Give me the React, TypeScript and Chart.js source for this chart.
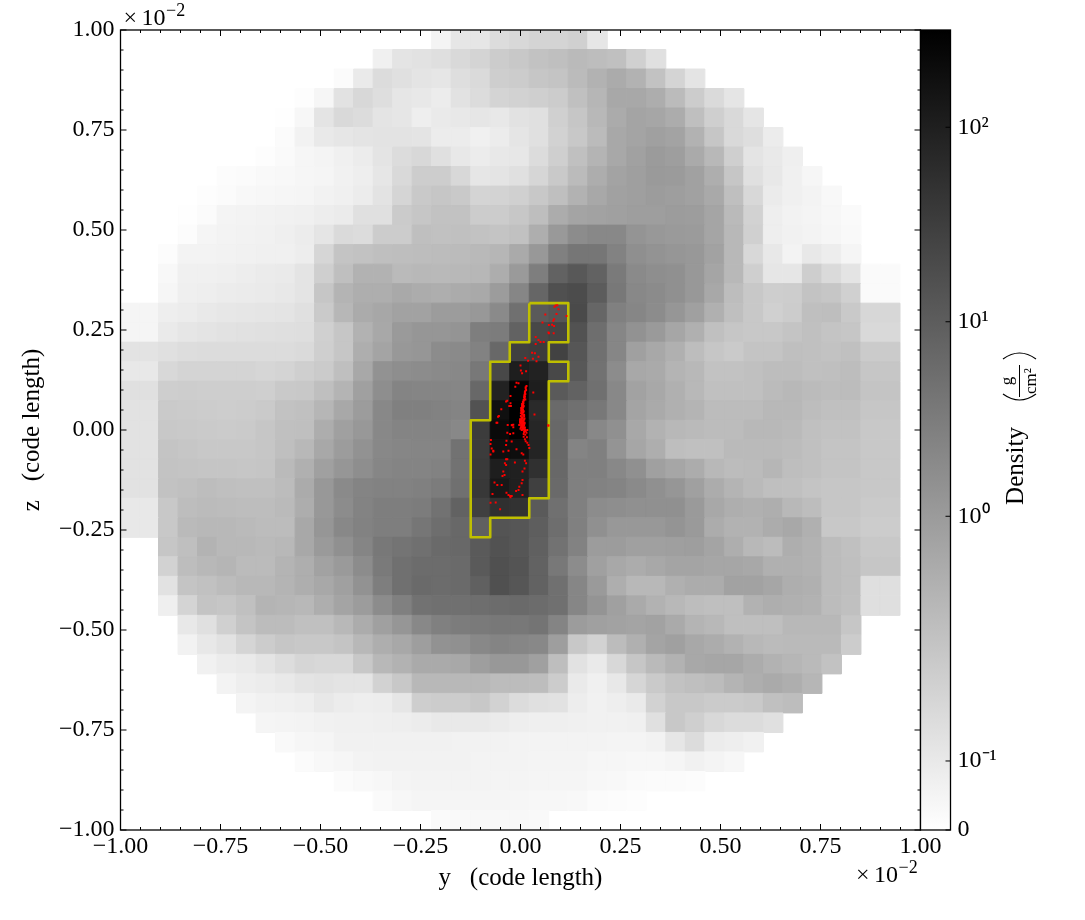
import React, { useEffect, useRef } from "react";
import { Chart, registerables } from "chart.js";

Chart.register(...registerables);

// Grid of projected density, as a gray level on the colour bar (0x00 black, 0xff white).
const GRID_SIZE = 41;
const GRID_X_START = -1.0025;
const GRID_Y_START = 1.0;
const GRID_SPAN = 2;

const rowStart = [16,13,11,9,8,8,7,5,4,3,3,2,2,2,0,0,0,0,0,0,0,0,0,0,0,0,2,2,2,2,3,3,4,5,6,7,8,9,11,13,16];
const r00 = [0xf4,0xe6,0xe6,0xdc,0xd8,0xd4,0xd4,0xd0,0xe6];
const r01 = [0xf0,0xe4,0xe2,0xdf,0xd9,0xd4,0xcc,0xc8,0xc2,0xbf,0xba,0xbd,0xc0,0xd0,0xe0];
const r02 = [0xfb,0xea,0xdc,0xe0,0xe4,0xe6,0xde,0xda,0xce,0xcc,0xc6,0xc4,0xbb,0xb2,0xab,0xb2,0xc2,0xd4,0xe4];
const r03 = [0xfd,0xf6,0xe2,0xd8,0xde,0xe6,0xe8,0xec,0xe2,0xdc,0xd4,0xd2,0xcf,0xcc,0xc0,0xb6,0xa8,0xa8,0xad,0xbb,0xcc,0xda,0xe5];
const r04 = [0xfe,0xf7,0xe4,0xd9,0xdc,0xe4,0xe6,0xee,0xea,0xe8,0xe6,0xe8,0xe2,0xe0,0xd0,0xc6,0xb8,0xab,0xa4,0xa6,0xac,0xbf,0xcf,0xd9,0xe5];
const r05 = [0xfb,0xf2,0xe9,0xe6,0xe4,0xe3,0xe3,0xe4,0xec,0xec,0xf0,0xec,0xe5,0xe0,0xd2,0xc8,0xbb,0xa8,0xa4,0xa0,0xa3,0xb2,0xc6,0xd9,0xde,0xec];
const r06 = [0xfd,0xfa,0xf6,0xf4,0xf0,0xec,0xe4,0xdc,0xd8,0xe0,0xe8,0xec,0xe8,0xe7,0xdc,0xcf,0xc0,0xb4,0xa8,0xa1,0x9b,0x9e,0xaa,0xb8,0xcf,0xe4,0xe9,0xef];
const r07 = [0xfc,0xfb,0xf9,0xf8,0xf6,0xf5,0xf1,0xee,0xe6,0xd9,0xcd,0xcd,0xd8,0xe6,0xe4,0xe0,0xd6,0xc9,0xbb,0xad,0xa3,0x9f,0x9a,0x9b,0xa1,0xae,0xc6,0xe0,0xe8,0xf0,0xf6];
const r08 = [0xfd,0xfb,0xf8,0xf7,0xf6,0xf5,0xf2,0xf0,0xec,0xe3,0xd5,0xc9,0xc6,0xc9,0xd4,0xd3,0xd0,0xc8,0xbf,0xb2,0xa8,0xa1,0x9f,0x9c,0x9e,0xa1,0xa9,0xbf,0xd8,0xeb,0xf0,0xf3,0xf8];
const r09 = [0xfe,0xfb,0xf4,0xf3,0xf2,0xf1,0xf0,0xed,0xeb,0xe0,0xe0,0xcb,0xc6,0xc2,0xc2,0xcc,0xcc,0xc7,0xbe,0xac,0xa4,0xa2,0xa0,0x9e,0x9e,0x9c,0x9d,0xa5,0xba,0xd2,0xee,0xf2,0xf4,0xf7,0xfa];
const r10 = [0xfc,0xf5,0xf3,0xf2,0xf1,0xef,0xec,0xe5,0xda,0xdc,0xcc,0xcc,0xbf,0xc1,0xc0,0xc2,0xc4,0xc1,0xae,0x99,0x8c,0x88,0x88,0x94,0x98,0x9a,0x9b,0xa5,0xb8,0xd0,0xee,0xf1,0xf3,0xf6,0xf9];
const r11 = [0xfc,0xf3,0xf3,0xf2,0xf1,0xf0,0xf0,0xed,0xd6,0xc4,0xc2,0xbf,0xbe,0xbd,0xbc,0xbb,0xb9,0xb6,0xaa,0x98,0x80,0x76,0x76,0x82,0x8f,0x93,0x96,0x98,0xa2,0xb8,0xd8,0xe8,0xf3,0xe8,0xed,0xf5];
const r12 = [0xf8,0xf0,0xf0,0xef,0xed,0xeb,0xea,0xe4,0xcf,0xbf,0xb2,0xb2,0xba,0xb8,0xb9,0xb8,0xb7,0xad,0x9a,0x7e,0x62,0x58,0x62,0x7a,0x8a,0x8e,0x90,0x98,0xa5,0xb8,0xcf,0xe6,0xe6,0xce,0xda,0xe4,0xfa,0xfa];
const r13 = [0xf6,0xef,0xee,0xec,0xeb,0xea,0xe8,0xe4,0xc6,0xb4,0xae,0xae,0xa9,0xac,0xae,0xab,0xa9,0x9c,0x86,0x66,0x50,0x4c,0x5c,0x78,0x88,0x8b,0x90,0x98,0xa8,0xbd,0xc8,0xce,0xcd,0xc3,0xc6,0xd0,0xfa,0xfa];
const r14 = [0xf5,0xf5,0xee,0xec,0xe9,0xe7,0xe6,0xe5,0xe4,0xe0,0xca,0xb7,0xab,0xa7,0xa2,0xa2,0x9c,0x9c,0x98,0x8a,0x70,0x5a,0x55,0x4a,0x66,0x80,0x86,0x8c,0x96,0xa0,0xb0,0xbf,0xc8,0xd0,0xcc,0xbf,0xbe,0xc9,0xd7,0xd7];
const r15 = [0xf5,0xf5,0xea,0xe6,0xe4,0xe2,0xe1,0xe0,0xdf,0xde,0xd0,0xc6,0xb2,0xa8,0x9a,0x96,0x96,0x94,0x7e,0x7c,0x62,0x48,0x44,0x52,0x6e,0x86,0x92,0x9a,0xa6,0xb0,0xc0,0xc6,0xc8,0xc8,0xc4,0xc0,0xc4,0xc6,0xd9,0xd9];
const r16 = [0xe3,0xe3,0xe0,0xdd,0xdc,0xdc,0xdc,0xdc,0xdc,0xda,0xcf,0xc6,0xae,0xa4,0x98,0x96,0x8c,0x8a,0x82,0x68,0x40,0x3c,0x42,0x56,0x70,0x86,0xa0,0xa8,0xb0,0xbd,0xc6,0xca,0xc4,0xc4,0xbf,0xc0,0xc2,0xc0,0xcb,0xcb];
const r17 = [0xe8,0xe8,0xd8,0xd4,0xd4,0xd4,0xd4,0xd6,0xd4,0xcf,0xcb,0xbf,0xa8,0x92,0x8e,0x8c,0x8a,0x88,0x78,0x48,0x1e,0x22,0x48,0x58,0x72,0x8c,0xa8,0xaa,0xb4,0xb8,0xc2,0xc2,0xc0,0xbd,0xbd,0xc0,0xbf,0xbd,0xc6,0xc6];
const r18 = [0xe0,0xe0,0xce,0xcd,0xce,0xce,0xce,0xcf,0xc9,0xc8,0xbf,0xb4,0xa0,0x8e,0x84,0x85,0x85,0x86,0x68,0x22,0x03,0x1e,0x5a,0x62,0x70,0x88,0xa2,0xa8,0xb0,0xb8,0xc0,0xc0,0xc0,0xbb,0xb8,0xbb,0xbd,0xbc,0xc4,0xc4];
const r19 = [0xe2,0xe2,0xca,0xcb,0xcc,0xcd,0xcc,0xca,0xc2,0xc0,0xb6,0xa8,0x9c,0x88,0x80,0x80,0x82,0x84,0x52,0x10,0x00,0x2a,0x6a,0x70,0x78,0x88,0xa4,0xaa,0xb0,0xb4,0xbc,0xbc,0xbc,0xb8,0xb8,0xbd,0xc0,0xc0,0xc6,0xc6];
const r20 = [0xe2,0xe2,0xc8,0xc9,0xca,0xcb,0xca,0xc6,0xc0,0xbf,0xad,0xa0,0x98,0x88,0x84,0x84,0x84,0x88,0x3c,0x0a,0x00,0x26,0x68,0x78,0x88,0x90,0xa8,0xb2,0xb8,0xba,0xbc,0xbc,0xb8,0xb8,0xba,0xc0,0xc2,0xc2,0xc8,0xc8];
const r21 = [0xe2,0xe2,0xc4,0xc6,0xc8,0xc8,0xc8,0xc6,0xbf,0xb8,0xa8,0x9c,0x92,0x88,0x86,0x85,0x85,0x72,0x3c,0x0e,0x0e,0x24,0x68,0x84,0x80,0x94,0xa6,0xae,0xbe,0xc0,0xc0,0xba,0xba,0xba,0xbc,0xc0,0xc4,0xc4,0xc8,0xc8];
const r22 = [0xe2,0xe2,0xc3,0xc4,0xc5,0xc5,0xc6,0xc5,0xba,0xb0,0xa0,0x96,0x8e,0x86,0x84,0x84,0x82,0x72,0x3a,0x1e,0x20,0x30,0x68,0x80,0x80,0x88,0x90,0xa0,0xa6,0xac,0xb8,0xbc,0xbb,0xb6,0xbe,0xc0,0xc4,0xc4,0xc8,0xc8];
const r23 = [0xe2,0xe2,0xc2,0xc0,0xbd,0xbf,0xc0,0xc0,0xbc,0xab,0x98,0x8a,0x84,0x82,0x82,0x80,0x7c,0x70,0x38,0x18,0x20,0x40,0x6a,0x80,0x82,0x84,0x8a,0x90,0x96,0xa0,0xac,0xb4,0xba,0xbf,0xc0,0xc4,0xc6,0xc6,0xc8,0xc8];
const r24 = [0xe8,0xe8,0xc8,0xbd,0xbb,0xbc,0xbd,0xbd,0xba,0xad,0x98,0x8c,0x83,0x7e,0x7e,0x7c,0x72,0x62,0x40,0x30,0x32,0x5a,0x70,0x80,0x8c,0x8e,0x90,0x90,0x90,0x9a,0xa8,0xae,0xb0,0xae,0xb8,0xbd,0xc6,0xc6,0xca,0xca];
const r25 = [0xe8,0xe8,0xc8,0xba,0xb8,0xb8,0xba,0xbc,0xbc,0xa8,0x96,0x88,0x82,0x7e,0x7e,0x76,0x6e,0x68,0x60,0x54,0x56,0x5e,0x6e,0x80,0x90,0x98,0x98,0x98,0x94,0x9a,0xac,0xb2,0xb2,0xac,0xa8,0xb0,0xc8,0xc8,0xcc,0xcc];
const r26 = [0xc6,0xbf,0xb3,0xb8,0xb8,0xba,0xb8,0xa8,0x9a,0x90,0x85,0x78,0x74,0x70,0x6a,0x68,0x5a,0x52,0x56,0x60,0x72,0x82,0x9c,0x9c,0xa0,0xa0,0x9f,0x9e,0xa4,0xae,0xb8,0xbc,0xae,0xb2,0xbc,0xc0,0xc8,0xc8];
const r27 = [0xd2,0xbd,0xb8,0xb5,0xbb,0xbb,0xb4,0xae,0xa2,0x9a,0x8c,0x7a,0x70,0x6c,0x6c,0x6a,0x5a,0x50,0x54,0x62,0x78,0x8c,0xa0,0xa8,0xac,0xa8,0xa4,0xa4,0xa6,0xa6,0xa8,0xb0,0xb0,0xb2,0xbc,0xbf,0xc6,0xc6];
const r28 = [0xe2,0xc4,0xc1,0xbc,0xb8,0xb8,0xb4,0xae,0xa8,0xa0,0x92,0x7e,0x70,0x6a,0x6c,0x6a,0x60,0x50,0x56,0x62,0x70,0x86,0x9a,0xae,0xb8,0xb8,0xb0,0xac,0xac,0xa2,0xa2,0xa6,0xae,0xb0,0xbc,0xbf,0xdf,0xdf];
const r29 = [0xef,0xd4,0xc4,0xc6,0xc0,0xb4,0xb6,0xb8,0xae,0xa4,0x9c,0x8c,0x80,0x72,0x70,0x70,0x6e,0x6c,0x6a,0x6c,0x70,0x86,0x94,0xa0,0xaa,0xb2,0xb8,0xbd,0xbf,0xbf,0xb2,0xae,0xb0,0xb2,0xbc,0xc0,0xdf,0xdf];
const r30 = [0xe8,0xe0,0xd0,0xc4,0xbc,0xbc,0xc0,0xc0,0xb8,0xac,0xa0,0x96,0x88,0x80,0x7c,0x7a,0x78,0x78,0x74,0x84,0x9c,0xa0,0xa2,0xa4,0xa2,0xaa,0xb4,0xb8,0xbf,0xbf,0xbf,0xb8,0xb8,0xb8,0xc6];
const r31 = [0xf2,0xe8,0xe2,0xd5,0xcc,0xc6,0xc8,0xc8,0xc4,0xb8,0xae,0xa8,0x9e,0x92,0x90,0x88,0x84,0x86,0x88,0x9e,0xc8,0xd2,0xbc,0xb0,0xa4,0xa0,0xa8,0xac,0xb2,0xb8,0xbb,0xba,0xba,0xba,0xcc];
const r32 = [0xf1,0xec,0xea,0xe4,0xdd,0xd6,0xd8,0xd8,0xc8,0xb8,0xb2,0xaa,0xaa,0xa8,0x9e,0x98,0x98,0xa0,0xbe,0xe2,0xea,0xd8,0xc6,0xba,0xb2,0xa8,0xa6,0xa6,0xac,0xb2,0xb6,0xba,0xc2];
const r33 = [0xf3,0xee,0xec,0xe9,0xe4,0xe2,0xe4,0xe4,0xd2,0xc8,0xb8,0xb8,0xb8,0xb8,0xbc,0xbc,0xbd,0xcc,0xea,0xf0,0xe8,0xd6,0xca,0xc2,0xbf,0xbc,0xb4,0xae,0xaa,0xae,0xb6];
const r34 = [0xf4,0xf1,0xf0,0xee,0xe8,0xec,0xee,0xed,0xe6,0xce,0xcc,0xcc,0xc8,0xd2,0xdc,0xe0,0xe2,0xed,0xf1,0xee,0xea,0xd2,0xc8,0xc8,0xcb,0xcb,0xc9,0xc0,0xbd];
const r35 = [0xf5,0xf4,0xf3,0xf1,0xf0,0xf0,0xef,0xee,0xec,0xe9,0xe9,0xe9,0xeb,0xee,0xef,0xef,0xf0,0xf1,0xf1,0xf0,0xe0,0xc8,0xcf,0xd8,0xdc,0xdc,0xe0];
const r36 = [0xf9,0xf6,0xf5,0xf1,0xf1,0xf1,0xf1,0xf1,0xf1,0xf2,0xf2,0xf2,0xf3,0xf3,0xf3,0xf3,0xf3,0xf4,0xf4,0xf2,0xe6,0xdc,0xec,0xee,0xf1];
const r37 = [0xfb,0xf8,0xf6,0xf3,0xf2,0xf2,0xf2,0xf2,0xf2,0xf3,0xf3,0xf3,0xf4,0xf4,0xf4,0xf6,0xf6,0xf7,0xf7,0xf5,0xf1,0xf4,0xf7];
const r38 = [0xfb,0xf9,0xf7,0xf4,0xf3,0xf3,0xf3,0xf3,0xf4,0xf4,0xf5,0xf5,0xf5,0xf7,0xf8,0xfa,0xfb,0xfb,0xfc];
const r39 = [0xfa,0xf7,0xf5,0xf5,0xf5,0xf5,0xf5,0xf6,0xf7,0xf7,0xf8,0xfb,0xfc,0xfd];
const r40 = [0xfa,0xf9,0xf8,0xf8,0xf8,0xf9];
const grayRows = [r00,r01,r02,r03,r04,r05,r06,r07,r08,r09,r10,r11,r12,r13,r14,r15,r16,r17,r18,r19,r20,r21,r22,r23,r24,r25,r26,r27,r28,r29,r30,r31,r32,r33,r34,r35,r36,r37,r38,r39,r40];

// Outline of the selected region (y, z in units of 1e-2 code length).
const contourY = [0.0219,0.1195,0.1195,0.0707,0.0707,0.1195,0.1195,0.0707,0.0707,0.0219,0.0219,-0.0757,-0.0757,-0.1245,-0.1245,-0.0757,-0.0757,-0.0269,-0.0269,0.0219,0.0219];
const contourZ = [0.3171,0.3171,0.2195,0.2195,0.1707,0.1707,0.1220,0.1220,-0.1707,-0.1707,-0.2195,-0.2195,-0.2683,-0.2683,0.0244,0.0244,0.1707,0.1707,0.2195,0.2195,0.3171];

// Particle positions.
const particleY = [0.088,0.092,0.085,0.095,0.090,0.115,0.062,0.084,0.082,0.055,0.071,0.079,0.084,0.070,0.071,0.083,0.038,0.045,0.050,0.058,0.038,0.029,0.036,0.045,0.012,0.031,0.019,0.040,0,0.001,0.014,0.004,0.032,-0.010,-0.005,-0.013,-0.025,-0.033,-0.036,-0.025,-0.028,-0.024,-0.048,-0.054,-0.056,-0.058,-0.032,-0.021,-0.018,0.035,0.069,
0.015,0.013,0.012,0.011,0.010,0.010,0.008,0.007,0.005,0.005,0.007,0.003,0.005,0.002,0.007,0.004,0.009,0.001,0.005,0.010,-0.001,0.003,0.007,0,0.005,0.009,-0.003,0.002,0.006,0.010,0,
0.013,0.011,0.010,0.009,0.012,0.006,0.004,0.008,0.002,0.006,0.008,0.003,0.009,0.001,0.006,0.008,0.004,0.001,0.006,
0.014,0.012,0.011,0.008,0.007,0.006,0.004,0.003,0.006,0.002,0.008,0.004,0.001,0.006,0.009,0.003,0.005,0.002,0.007,0.010,-0.001,0.004,0.008,0.011,0.001,0.006,0.010,0.013,0.003,0.008,
-0.001,0.003,0.007,0,0.005,0.010,0.002,0.007,-0.002,0.005,0.0095,0.003,0.012,0.017,0.009,0.015,0.012,0.008,0.016,0.011,0.013,0.017,0.020,0.022,-0.022,-0.018,-0.033,-0.026,-0.018,-0.060,0.070,
-0.074,-0.075,-0.072,-0.068,-0.075,-0.035,-0.022,-0.036,-0.068,-0.043,-0.030,-0.010,0.003,0.007,-0.036,-0.039,-0.014,0.011,0.014,0.010,0.005,-0.033,-0.036,-0.043,-0.040,-0.045,-0.065,-0.047,-0.058,0.005,0.003,-0.003,-0.005,-0.011,-0.035,-0.030,-0.026,-0.022,-0.025,0.005,-0.070,-0.075,-0.062,-0.051];
const particleZ = [0.311,0.312,0.308,0.302,0.290,0.285,0.289,0.277,0.273,0.269,0.2625,0.263,0.260,0.244,0.242,0.242,0.2325,0.225,0.220,0.220,0.215,0.193,0.192,0.183,0.180,0.178,0.173,0.172,0.161,0.149,0.147,0.142,0.094,0.118,0.117,0.108,0.085,0.073,0.071,0.067,0.060,0.060,0.052,0.035,0.033,0.018,0.0125,0.0125,0.007,0.039,0.011,
0.110,0.104,0.0975,0.092,0.085,0.079,0.073,0.068,0.0625,0.058,0.057,0.053,0.050,0.047,0.044,0.040,0.0375,0.035,0.032,0.029,0.027,0.023,0.021,0.018,0.015,0.0125,0.0125,0.008,0.007,0.004,0.003,
0.107,0.095,0.088,0.082,0.076,0.070,0.065,0.060,0.055,0.048,0.038,0.030,0.026,0.024,0.019,0.017,0.010,0.020,0.001,
0.100,0.090,0.083,0.075,0.066,0.063,0.060,0.055,0.052,0.050,0.047,0.044,0.042,0.038,0.034,0.031,0.028,0.026,0.024,0.016,0.020,0.014,0.008,0.006,0.006,0.002,-0.002,-0.003,0.018,-0.010,
0.023,0.021,0.0225,0.017,0.015,0.018,0.012,0.010,0.013,0.005,0.003,0,0,0,-0.005,-0.007,-0.012,-0.017,-0.018,-0.023,-0.028,-0.032,-0.0375,-0.045,0.012,0.013,-0.007,-0.010,-0.008,0.018,0.011,
-0.025,-0.035,-0.046,-0.052,-0.061,-0.027,-0.029,-0.0375,-0.054,-0.054,-0.052,-0.048,-0.058,-0.061,-0.073,-0.083,-0.081,-0.077,-0.083,-0.096,-0.104,-0.073,-0.0875,-0.104,-0.1125,-0.115,-0.131,-0.1375,-0.1375,-0.125,-0.133,-0.142,-0.150,-0.1525,-0.157,-0.1625,-0.165,-0.165,-0.168,-0.1625,-0.160,-0.182,-0.181,-0.198];

// Colour bar: position of each tick on the gray-level axis, and its label.
const colorbarTickLevels = [0, 22, 100, 162, 224];
const colorbarTickLabels = ["0", "10⁻¹", "10⁰", "10¹", "10²"];

const SERIF = '"Liberation Serif", serif';
const CONTOUR_COLOR = "#bfbf00";

const cells: { x: number; y: number; g: number }[] = [];
grayRows.forEach((row, r) => {
  const step = GRID_SPAN / GRID_SIZE;
  row.forEach((g, i) => {
    cells.push({
      x: GRID_X_START + (rowStart[r] + i + 0.5) * step,
      y: GRID_Y_START - (r + 0.5) * step,
      g,
    });
  });
});

function drawOffsetLabel(ctx: CanvasRenderingContext2D, x: number, y: number) {
  ctx.textAlign = "left";
  ctx.textBaseline = "alphabetic";
  ctx.font = `24px ${SERIF}`;
  ctx.fillText("×", x + 1, y);
  ctx.fillText("10", x + 19, y);
  ctx.font = `18px ${SERIF}`;
  ctx.fillText("−2", x + 43.5, y - 9);
}

const frame = {
  id: "frame",
  afterDraw(chart: any) {
    const { ctx, chartArea: a, scales } = chart;
    ctx.save();
    ctx.strokeStyle = "#000";
    ctx.fillStyle = "#000";
    ctx.lineWidth = 1;
    scales.x.ticks.forEach((t: any, i: number) => {
      const p = scales.x.getPixelForTick(i);
      const len = t.label ? 6 : 3;
      ctx.beginPath();
      ctx.moveTo(p, a.bottom);
      ctx.lineTo(p, a.bottom - len);
      ctx.moveTo(p, a.top);
      ctx.lineTo(p, a.top + len);
      ctx.stroke();
    });
    scales.y.ticks.forEach((t: any, i: number) => {
      const p = scales.y.getPixelForTick(i);
      const len = t.label ? 6 : 3;
      ctx.beginPath();
      ctx.moveTo(a.left, p);
      ctx.lineTo(a.left + len, p);
      ctx.moveTo(a.right, p);
      ctx.lineTo(a.right - len, p);
      ctx.stroke();
    });
    ctx.lineWidth = 1.3;
    ctx.strokeRect(a.left, a.top, a.right - a.left, a.bottom - a.top);
    drawOffsetLabel(ctx, 122.5, 25);
    drawOffsetLabel(ctx, 855, 882);
    ctx.restore();
  },
};

const colorbarFrame = {
  id: "colorbarFrame",
  afterDraw(chart: any) {
    const { ctx, chartArea: a, scales } = chart;
    ctx.save();
    ctx.strokeStyle = "#000";
    ctx.fillStyle = "#000";
    ctx.lineWidth = 1;
    scales.y.ticks.forEach((_: any, i: number) => {
      const p = scales.y.getPixelForTick(i);
      ctx.beginPath();
      ctx.moveTo(a.right, p);
      ctx.lineTo(a.right - 5, p);
      ctx.stroke();
    });
    ctx.lineWidth = 1.3;
    ctx.strokeRect(a.left, a.top, a.right - a.left, a.bottom - a.top);

    // Axis title, rotated: Density (g / cm²)
    const rotated = (x: number, y: number, fn: () => void) => {
      ctx.save();
      ctx.translate(x, y);
      ctx.rotate(-Math.PI / 2);
      fn();
      ctx.restore();
    };
    ctx.textAlign = "center";
    ctx.textBaseline = "middle";
    rotated(116, 466, () => {
      ctx.font = `25px ${SERIF}`;
      ctx.fillText("Density", 0, 0);
    });
    rotated(108, 381, () => {
      ctx.font = `17px ${SERIF}`;
      ctx.fillText("g", 0, 0);
    });
    rotated(132, 381, () => {
      ctx.font = `17px ${SERIF}`;
      ctx.fillText("cm²", 0, 0);
    });
    ctx.lineWidth = 1;
    ctx.beginPath();
    ctx.moveTo(119.5, 365);
    ctx.lineTo(119.5, 397);
    ctx.stroke();
    ctx.lineWidth = 1.2;
    ctx.beginPath();
    ctx.moveTo(103, 394);
    ctx.quadraticCurveTo(119.5, 406, 136, 394);
    ctx.moveTo(103, 359);
    ctx.quadraticCurveTo(119.5, 347, 136, 359);
    ctx.stroke();
    ctx.restore();
  },
};

export default function App() {
  const mainRef = useRef<HTMLCanvasElement>(null);
  const barRef = useRef<HTMLCanvasElement>(null);

  useEffect(() => {
    const tickFont = { family: SERIF, size: 24 };
    const titleFont = { family: SERIF, size: 25, lineHeight: 1.2 };
    const format = (v: number) => {
      const n = Math.round(v / 0.05);
      if (n % 5 !== 0) return "";
      const s = Math.abs(n * 0.05).toFixed(2);
      return n < 0 ? `−${s}` : s;
    };
    const main = new Chart(mainRef.current!, {
      type: "scatter",
      plugins: [frame],
      data: {
        datasets: [
          {
            label: "Particles",
            data: particleY.map((x, i) => ({ x, y: particleZ[i] })),
            pointStyle: "rect",
            pointRadius: 1.4,
            pointBackgroundColor: "#ff0000",
            pointBorderWidth: 0,
            order: 1,
          },
          {
            label: "Contour",
            data: contourY.map((x, i) => ({ x, y: contourZ[i] })),
            showLine: true,
            pointRadius: 0,
            borderColor: CONTOUR_COLOR,
            borderWidth: 2.6,
            borderJoinStyle: "round",
            tension: 0,
            order: 2,
          },
          {
            label: "Density",
            data: cells,
            pointStyle: "rect",
            pointRadius: (c: any) =>
              ((c.chart.scales.x.width * GRID_SPAN) / GRID_SIZE / 2 / 2) * Math.SQRT2,
            pointBackgroundColor: (c: any) => {
              const g = c.raw?.g ?? 255;
              return `rgb(${g},${g},${g})`;
            },
            pointBorderColor: (c: any) => {
              const g = c.raw?.g ?? 255;
              return `rgb(${g},${g},${g})`;
            },
            pointBorderWidth: 1,
            order: 3,
          },
        ] as any,
      },
      options: {
        animation: false,
        responsive: false,
        devicePixelRatio: 1,
        events: [],
        layout: { padding: { top: 30, right: 164.5, left: 0, bottom: 0 } },
        plugins: { legend: { display: false }, tooltip: { enabled: false } },
        scales: {
          x: {
            type: "linear",
            min: -1,
            max: 1,
            afterFit: (s: any) => {
              s.height = 90;
            },
            grid: { display: false, drawTicks: false, tickLength: 0 },
            border: { display: false },
            ticks: {
              stepSize: 0.05,
              autoSkip: false,
              maxRotation: 0,
              padding: 2,
              color: "#000",
              font: tickFont,
              callback: (v: any) => format(Number(v)),
            },
            title: {
              display: true,
              text: "y   (code length)",
              color: "#000",
              font: titleFont,
              padding: { top: 0, bottom: 27 },
            },
          },
          y: {
            type: "linear",
            min: -1,
            max: 1,
            afterFit: (s: any) => {
              s.width = 120.5;
            },
            grid: { display: false, drawTicks: false, tickLength: 0 },
            border: { display: false },
            ticks: {
              stepSize: 0.05,
              autoSkip: false,
              padding: 6,
              color: "#000",
              font: tickFont,
              callback: (v: any) => format(Number(v)),
            },
            title: {
              display: true,
              text: "z   (code length)",
              color: "#000",
              font: titleFont,
              padding: { top: 17, bottom: 0 },
            },
          },
        },
      } as any,
    });

    const bar = new Chart(barRef.current!, {
      type: "bar",
      plugins: [colorbarFrame],
      data: {
        labels: ["Density"],
        datasets: [
          {
            data: [[0, 255]],
            categoryPercentage: 1,
            barPercentage: 1,
            backgroundColor: (c: any) => {
              const a = c.chart.chartArea;
              if (!a) return "#888";
              const grad = c.chart.ctx.createLinearGradient(0, a.top, 0, a.bottom);
              grad.addColorStop(0, "#000000");
              grad.addColorStop(1, "#ffffff");
              return grad;
            },
          },
        ] as any,
      },
      options: {
        animation: false,
        responsive: false,
        devicePixelRatio: 1,
        events: [],
        layout: { padding: { top: 30, left: 20.5, right: 0, bottom: 90 } },
        plugins: { legend: { display: false }, tooltip: { enabled: false } },
        scales: {
          x: { display: false },
          y: {
            type: "linear",
            position: "right",
            min: 0,
            max: 255,
            afterFit: (s: any) => {
              s.width = 134.5;
            },
            afterBuildTicks: (s: any) => {
              s.ticks = colorbarTickLevels.map((value) => ({ value }));
            },
            grid: { display: false, drawTicks: false, tickLength: 0 },
            border: { display: false },
            ticks: {
              autoSkip: false,
              padding: 7,
              color: "#000",
              font: tickFont,
              callback: (_: any, i: number) => colorbarTickLabels[i],
            },
          },
        },
      } as any,
    });

    return () => {
      main.destroy();
      bar.destroy();
    };
  }, []);

  return (
    <div>
      <canvas
        ref={mainRef}
        width={1085}
        height={920}
        style={{ position: "absolute", left: 0, top: 0, width: 1085, height: 920 }}
      />
      <canvas
        ref={barRef}
        width={185}
        height={920}
        style={{ position: "absolute", left: 900, top: 0, width: 185, height: 920 }}
      />
    </div>
  );
}
